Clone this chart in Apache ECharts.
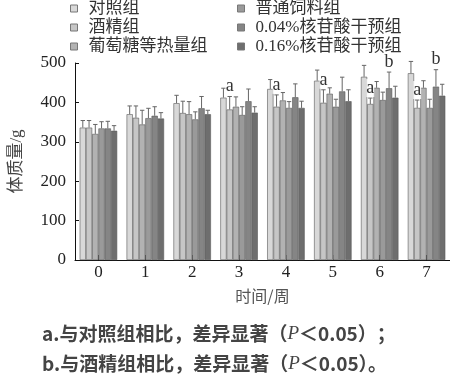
<!DOCTYPE html>
<html><head><meta charset="utf-8">
<script src="https://cdn.jsdelivr.net/npm/echarts@6/dist/echarts.min.js"></script>
<style>html,body{margin:0;padding:0;background:#fff}#c{width:450px;height:378px}</style>
</head><body><div id="c"></div>
<script>
var categories = ['0','1','2','3','4','5','6','7'];
var seriesNames = ['对照组','酒精组','葡萄糖等热量组','普通饲料组','0.04%核苷酸干预组','0.16%核苷酸干预组'];
var control   = [336, 370, 398, 412, 434, 455, 465, 474];
var alcohol   = [336, 361, 373, 382, 389, 399, 396, 386];
var glucose   = [320, 344, 370, 389, 405, 422, 437, 437];
var normal    = [334, 360, 357, 368, 386, 389, 406, 386];
var nuc004    = [334, 366, 385, 403, 413, 428, 436, 440];
var nuc016    = [328, 359, 370, 374, 386, 403, 412, 417];
var errControl = [18, 21, 20, 24, 24, 27, 29, 30];
var errAlcohol = [18, 30, 30, 33, 30, 33, 15, 20];
var errGlucose = [24, 36, 32, 25, 20, 15, 16, 18];
var errNormal  = [17, 25, 19, 21, 16, 19, 20, 22];
var errNuc004  = [18, 23, 30, 31, 34, 36, 41, 43];
var errNuc016  = [13, 15, 10, 15, 17, 29, 29, 29];
var sigAlcohol = ['', '', '', 'a', 'a', 'a', 'a', 'a'];
var sigNuc004  = ['', '', '', '', '', '', 'b', 'b'];
var yTicks = [0, 100, 200, 300, 400, 500];

var values = [control, alcohol, glucose, normal, nuc004, nuc016];
var errs = [errControl, errAlcohol, errGlucose, errNormal, errNuc004, errNuc016];
var sigs = [null, sigAlcohol, null, null, sigNuc004, null];
var colors = ['#d8d8d8', '#c6c6c6', '#b2b2b2', '#9a9a9a', '#858585', '#6e6e6e'];
var nS = values.length, catGap = 0.2;
var serif = "'Liberation Serif','Noto Sans CJK SC'";
var sans = "'Noto Sans CJK SC','Noto Sans'";

var chart = echarts.init(document.getElementById('c'), null, {renderer: 'canvas'});
var series = [];
values.forEach(function (v, s) {
  series.push({
    name: seriesNames[s], type: 'bar', data: v, barGap: 0, barCategoryGap: (catGap * 100) + '%',
    itemStyle: {color: colors[s], borderColor: '#5a5a5a', borderWidth: 0.6}, z: 2
  });
});
values.forEach(function (v, s) {
  var d = v.map(function (val, i) { return [i, val, errs[s][i]]; });
  series.push({
    type: 'custom', data: d, z: 3, silent: true,
    renderItem: function (params, api) {
      var idx = api.value(0), val = api.value(1), e = api.value(2);
      var band = api.size([1, 0])[0];
      var bw = band * (1 - catGap) / nS;
      var c = api.coord([idx, val]);
      var x = c[0] - band * (1 - catGap) / 2 + bw * (s + 0.5);
      var top = api.coord([idx, val + e])[1];
      var cap = bw * 0.35;
      var st = {stroke: '#666', lineWidth: 1};
      var children = [
        {type: 'line', shape: {x1: x, y1: c[1], x2: x, y2: top}, style: st},
        {type: 'line', shape: {x1: x - cap, y1: top, x2: x + cap, y2: top}, style: st}
      ];
      var sg = sigs[s];
      if (sg && sg[idx]) {
        children.push({type: 'text', z2: 10, style: {
          text: sg[idx], x: x, y: top - 1, align: 'center', verticalAlign: 'bottom',
          font: '18px ' + serif, fill: '#333', backgroundColor: 'rgba(255,255,255,0.85)', padding: [0, 0, 0, 0]
        }});
      }
      return {type: 'group', children: children};
    }
  });
});

var legendBase = {
  orient: 'vertical', top: 0, padding: 0, itemGap: 2, itemWidth: 7, itemHeight: 7,
  icon: 'rect', itemStyle: {borderColor: '#777', borderWidth: 1},
  textStyle: {fontFamily: serif, fontSize: 17, color: '#333', lineHeight: 17, padding: [0, 0, 0, 6]}
};
var noteRich = {
  t: {fontFamily: sans, fontSize: 19, fontWeight: 'bold', fill: '#444'},
  p: {fontFamily: serif, fontStyle: 'italic', fontSize: 19, fill: '#444'}
};
var option = {
  animation: false,
  color: colors,
  legend: [
    Object.assign({}, legendBase, {left: 70, data: seriesNames.slice(0, 3)}),
    Object.assign({}, legendBase, {left: 237, data: seriesNames.slice(3)})
  ],
  grid: {left: 68, right: -6, top: 63, bottom: 118, containLabel: false},
  xAxis: {
    type: 'category', data: categories,
    name: '时间/周', nameLocation: 'middle', nameGap: 28,
    nameTextStyle: {fontFamily: sans, fontSize: 16, color: '#555'},
    axisLine: {lineStyle: {color: '#111', width: 1}},
    axisTick: {show: true, inside: true, alignWithLabel: true, length: 5, lineStyle: {color: '#111'}},
    axisLabel: {fontFamily: serif, fontSize: 17, color: '#222', margin: 4}
  },
  yAxis: {
    type: 'value', min: yTicks[0], max: yTicks[yTicks.length - 1], interval: yTicks[1] - yTicks[0],
    name: '体质量/g', nameLocation: 'middle', nameGap: 50, nameRotate: 90,
    nameTextStyle: {fontFamily: serif, fontSize: 17, color: '#444'},
    axisLine: {show: true, lineStyle: {color: '#111', width: 1}},
    axisTick: {show: true, inside: true, length: 4, lineStyle: {color: '#111'}},
    axisLabel: {fontFamily: serif, fontSize: 17, color: '#222', margin: 9},
    splitLine: {show: false}
  },
  graphic: [
    {type: 'text', left: 42, top: 324, style: {
      text: '{t|a.与对照组相比，差异显著（}{p|P}{t|＜0.05）；}', rich: noteRich
    }},
    {type: 'text', left: 42, top: 354, style: {
      text: '{t|b.与酒精组相比，差异显著（}{p|P}{t|＜0.05）。}', rich: noteRich
    }}
  ],
  series: series
};
chart.setOption(option);
</script></body></html>
